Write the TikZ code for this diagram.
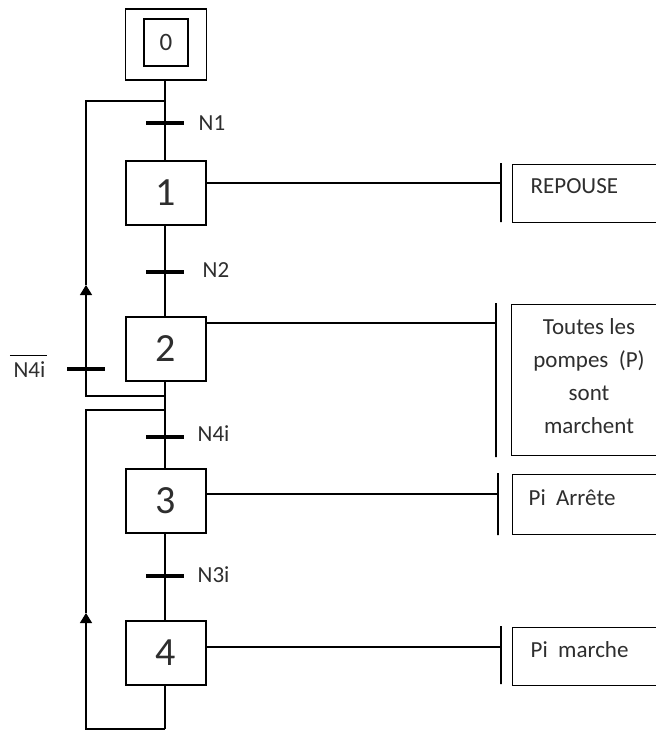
\documentclass[tikz,border=0pt]{standalone}
\usepackage{fontspec}
\setmainfont{Carlito}
\usetikzlibrary{arrows.meta}
\begin{document}
\begin{tikzpicture}[x=1pt,y=-1pt,
  line width=1.3pt,
  every node/.style={text=black!82},
  stepbox/.style={draw=black, line width=1.4pt, minimum width=80pt, minimum height=64pt,
    inner sep=0pt, font=\fontsize{40}{40}\selectfont},
  tbar/.style={fill=black, draw=none, minimum width=38pt, minimum height=4pt, inner sep=0pt},
  tlab/.style={anchor=west, inner sep=1pt, font=\fontsize{23}{23}\selectfont},
  actbox/.style={draw=black, line width=1.4pt, anchor=north west, inner sep=0pt, minimum width=153pt},
  actbar/.style={draw=black, line width=1.4pt, minimum width=0pt, inner sep=0pt},
  acttext/.style={anchor=base west, inner sep=0pt, font=\fontsize{23}{23}\selectfont},
  upArrow/.style={-{Triangle[length=10pt,width=12pt]}}
]
\clip (0,0) rectangle (656,731);
\fill[white] (0,0) rectangle (656,731);

% initial step
\node[draw=black, line width=1.4pt, minimum width=81pt, minimum height=71pt, inner sep=0pt] (s0) at (166,44.5) {};
\node[draw=black, line width=1.4pt, minimum width=44pt, minimum height=47pt, inner sep=0pt,
  font=\fontsize{25}{25}\selectfont] (s0in) at (166,42.5) {0};

% steps
\node[stepbox] (s1) at (166,193) {1};
\node[stepbox] (s2) at (166,349) {2};
\node[stepbox] (s3) at (166,501) {3};
\node[stepbox] (s4) at (166,653) {4};

% transitions on the main line
\node[tbar] (t1) at (165,123) {};
\node[tbar] (t2) at (165,272) {};
\node[tbar] (t3) at (165,437) {};
\node[tbar] (t4) at (165,576) {};
\node[tlab] (l1) at (197,123) {N1};
\node[tlab] (l2) at (201,270) {N2};
\node[tlab] (l3) at (196,434) {N4i};
\node[tlab] (l4) at (196,575) {N3i};

% main sequence
\coordinate (jB2) at (165,729);
\draw (s0.south -| t1) -- (s1.north -| t1);
\draw (s1.south -| t1) -- (s2.north -| t1);
\draw (s2.south -| t1) -- (s3.north -| t1);
\draw (s3.south -| t1) -- (s4.north -| t1);
\draw (s4.south -| t1) -- (jB2);

% loop back from step 2 to step 1
\coordinate (jA1) at (165,396);
\coordinate (jA2) at (86,396);
\coordinate (aA) at (86,285);
\coordinate (jA3) at (86,101);
\coordinate (jA4) at (165,101);
\draw[upArrow] (jA1) -- (jA2) -- (aA);
\draw (aA) -- (jA3) -- (jA4);
\node[tbar] (tA) at (86,369) {};
\node[anchor=east, inner sep=0pt, font=\fontsize{23}{23}\selectfont] (lA) at (46,370) {N4i};
\draw[line width=1.1pt] ([xshift=-3pt,yshift=6pt]lA.north west) -- ([xshift=1pt,yshift=6pt]lA.north east);

% loop back from step 4 to step 3
\coordinate (jB3) at (86,729);
\coordinate (aB) at (86,613);
\coordinate (jB4) at (86,410);
\coordinate (jB5) at (165,410);
\draw[upArrow] (jB2) -- (jB3) -- (aB);
\draw (aB) -- (jB4) -- (jB5);

% actions
\node[actbar, minimum height=59pt] (b1) at (501,192.5) {};
\node[actbox, minimum height=58pt] (a1) at (512,164) {};
\node[acttext] (x1) at (530,193) {REPOUSE};
\coordinate (h1) at (501,183);
\draw (s1.east |- h1) -- (h1);

\node[actbar, minimum height=154pt] (b2) at (496,380) {};
\node[actbox, minimum height=151pt] (a2) at (511,304) {};
\node[align=center, inner sep=0pt, font=\fontsize{23}{33}\selectfont] (x2) at (589,376)
  {Toutes les\\pompes\hspace{0.45em}(P)\\sont\\marchent};
\coordinate (h2) at (496,323);
\draw (s2.east |- h2) -- (h2);

\node[actbar, minimum height=62pt] (b3) at (498,504) {};
\node[actbox, minimum height=60pt] (a3) at (512,474) {};
\node[acttext] (x3) at (528,505) {Pi\hspace{0.45em}Arrête};
\coordinate (h3) at (498,494);
\draw (s3.east |- h3) -- (h3);

\node[actbar, minimum height=58pt] (b4) at (501,655) {};
\node[actbox, minimum height=58pt] (a4) at (512,627) {};
\node[acttext] (x4) at (530,657) {Pi\hspace{0.45em}marche};
\coordinate (h4) at (501,647);
\draw (s4.east |- h4) -- (h4);
\end{tikzpicture}
\end{document}
